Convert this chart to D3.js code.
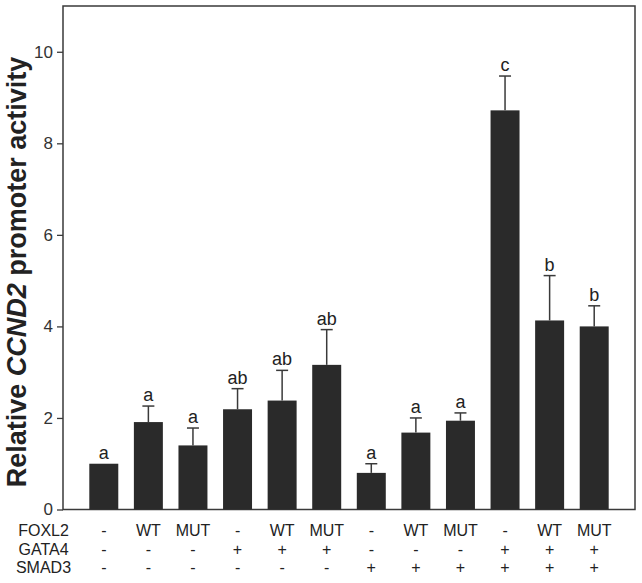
<!DOCTYPE html>
<html><head><meta charset="utf-8">
<script src="https://cdn.jsdelivr.net/npm/d3@7"></script>
<style>body{margin:0;background:#fff;} svg{display:block;font-family:"Liberation Sans",Arial,Helvetica,sans-serif;}</style>
</head><body><svg id="c" width="642" height="583"></svg>
<script>
const groups = ["g1","g2","g3","g4","g5","g6","g7","g8","g9","g10","g11","g12"];
const means  = [1.00, 1.91, 1.40, 2.19, 2.38, 3.16, 0.80, 1.68, 1.94, 8.72, 4.13, 4.00];
const upper  = [1.00, 2.26, 1.78, 2.64, 3.04, 3.93, 1.00, 2.00, 2.11, 9.47, 5.11, 4.45];
const letters= ["a","a","a","ab","ab","ab","a","a","a","c","b","b"];
const foxl2  = ["-","WT","MUT","-","WT","MUT","-","WT","MUT","-","WT","MUT"];
const gata4  = ["-","-","-","+","+","+","-","-","-","+","+","+"];
const smad3  = ["-","-","-","-","-","-","+","+","+","+","+","+"];
const rowNames = ["FOXL2","GATA4","SMAD3"];
const yTicks = [0,2,4,6,8,10];

const svg = d3.select("#c");
const L=63, R=635, T=6, B=509.5;
const x = d3.scaleBand().domain(groups).range([L,R]).paddingInner(0.35).paddingOuter(0.59);
const y = d3.scaleLinear().domain([0,11]).range([B,T]);
const ink="#2a2a2a";

// frame
svg.append("rect").attr("x",L).attr("y",T).attr("width",R-L).attr("height",B-T)
  .attr("fill","none").attr("stroke","#3a3a3a").attr("stroke-width",1.5);

// y axis
const ax = svg.append("g").attr("transform",`translate(${L},0)`)
  .call(d3.axisLeft(y).tickValues(yTicks).tickSize(6).tickPadding(4).tickFormat(d3.format("d")));
ax.select(".domain").remove();
ax.selectAll("line").attr("stroke","#3a3a3a").attr("stroke-width",1.3);
ax.selectAll("text").attr("font-size",17).attr("fill","#333").attr("font-family","Liberation Sans, Arial, sans-serif");

// bars
svg.append("g").selectAll("rect").data(groups).join("rect")
  .attr("x",d=>x(d)).attr("width",x.bandwidth())
  .attr("y",(d,i)=>y(means[i])).attr("height",(d,i)=>y(0)-y(means[i]))
  .attr("fill",ink);

// error bars (upper only)
const eb = svg.append("g").attr("stroke","#3a3a3a").attr("stroke-width",1.5);
groups.forEach((g,i)=>{
  if (upper[i] <= means[i]) return;
  const cx = x(g)+x.bandwidth()/2;
  eb.append("line").attr("x1",cx).attr("x2",cx).attr("y1",y(means[i])).attr("y2",y(upper[i]));
  eb.append("line").attr("x1",cx-6).attr("x2",cx+6).attr("y1",y(upper[i])).attr("y2",y(upper[i]));
});

// letters
svg.append("g").selectAll("text").data(groups).join("text")
  .attr("x",d=>x(d)+x.bandwidth()/2).attr("y",(d,i)=>y(upper[i])-5)
  .attr("text-anchor","middle").attr("font-size",18).attr("fill","#222")
  .text((d,i)=>letters[i]);

// y title
const tt = svg.append("text").attr("transform","translate(26,272) rotate(-90)")
  .attr("text-anchor","middle").attr("font-size",27).attr("font-weight","bold").attr("fill","#222");
tt.append("tspan").text("Relative ");
tt.append("tspan").attr("font-style","italic").text("CCND2");
tt.append("tspan").text(" promoter activity");

// bottom table
const rows=[foxl2,gata4,smad3];
const baselines=[536,554.5,573];
rows.forEach((r,ri)=>{
  svg.append("text").attr("x",43.5).attr("y",baselines[ri]).attr("text-anchor","middle")
    .attr("font-size",16).attr("fill","#222").text(rowNames[ri]);
  svg.append("g").selectAll("text").data(groups).join("text")
    .attr("x",d=>x(d)+x.bandwidth()/2).attr("y",baselines[ri]).attr("text-anchor","middle")
    .attr("font-size",16).attr("fill","#222").text((d,i)=>r[i]);
});
</script></body></html>
